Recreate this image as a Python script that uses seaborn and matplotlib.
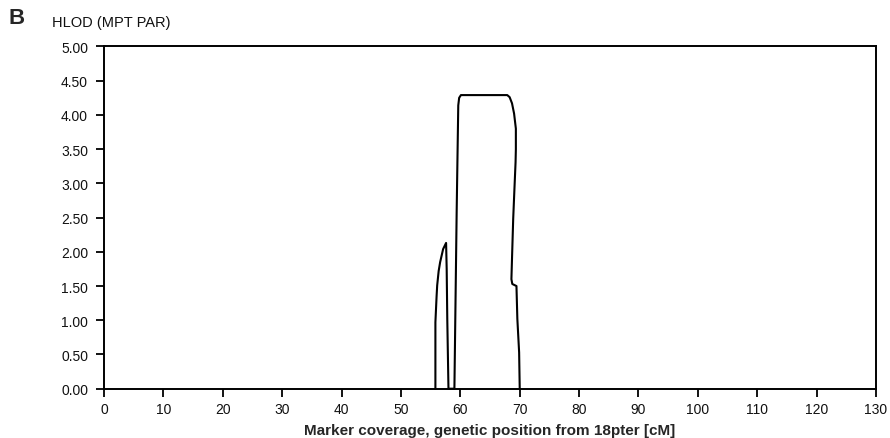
import matplotlib
matplotlib.use("Agg")
import matplotlib.pyplot as plt
import seaborn as sns
import pandas as pd

# HLOD curve (genetic position in cM, HLOD value), traced in drawing order
position_cm = [55.8, 55.8, 56.0, 56.1, 56.35, 56.6, 57.1, 57.6, 57.7, 57.8, 58.0,
               59.0, 59.38, 59.65, 59.8, 60.1, 67.9, 68.3, 68.7, 69.05, 69.35,
               69.35, 69.3, 69.1, 68.9, 68.7, 68.6, 68.75, 69.45, 69.6, 69.9, 70.0]
hlod = [0.00, 0.97, 1.35, 1.51, 1.72, 1.85, 2.04, 2.13, 1.75, 1.02, 0.00,
        0.00, 2.58, 4.14, 4.25, 4.29, 4.29, 4.26, 4.17, 4.02, 3.80,
        3.50, 3.31, 2.90, 2.48, 1.90, 1.60, 1.53, 1.50, 1.02, 0.53, 0.00]

x_ticks = list(range(0, 131, 10))
y_ticks = [0.0, 0.5, 1.0, 1.5, 2.0, 2.5, 3.0, 3.5, 4.0, 4.5, 5.0]
y_tick_labels = [f"{v:.2f}" for v in y_ticks]

panel_label = "B"
y_title = "HLOD (MPT PAR)"
x_title = "Marker coverage, genetic position from 18pter [cM]"

sns.set_theme(style="white")
plt.rcParams["font.family"] = ["Liberation Sans", "DejaVu Sans"]

df = pd.DataFrame({"pos": position_cm, "hlod": hlod})

fig = plt.figure(figsize=(8.9, 4.39), dpi=100)
ax = fig.add_axes([0.1169, 0.1123, 0.9843 - 0.1169, 0.8918 - 0.1123])

sns.lineplot(data=df, x="pos", y="hlod", sort=False, estimator=None,
             color="black", linewidth=1.5, ax=ax, clip_on=False)

ax.set_xlim(0, 130)
ax.set_ylim(0, 5)
ax.set_xticks(x_ticks)
ax.set_yticks(y_ticks)
ax.set_yticklabels(y_tick_labels)
ax.set_xlabel(x_title, fontsize=11, fontweight="bold", labelpad=5)
ax.set_ylabel("")

for s in ax.spines.values():
    s.set_visible(True)
    s.set_color("black")
    s.set_linewidth(1.4)

ax.tick_params(axis="both", direction="out", length=5.5, width=1.3,
               color="black", labelsize=10, labelcolor="#111111",
               bottom=True, left=True)
ax.tick_params(axis="y", pad=6)
ax.tick_params(axis="x", pad=4)
ax.grid(False)

fig.text(9 / 890, 1 - 19 / 439, panel_label, fontsize=16, fontweight="bold",
         va="center", ha="left")
fig.text(52 / 890, 1 - 22.5 / 439, y_title, fontsize=10.5, va="center", ha="left",
         color="#111111")

fig.savefig("out.png", dpi=100)
